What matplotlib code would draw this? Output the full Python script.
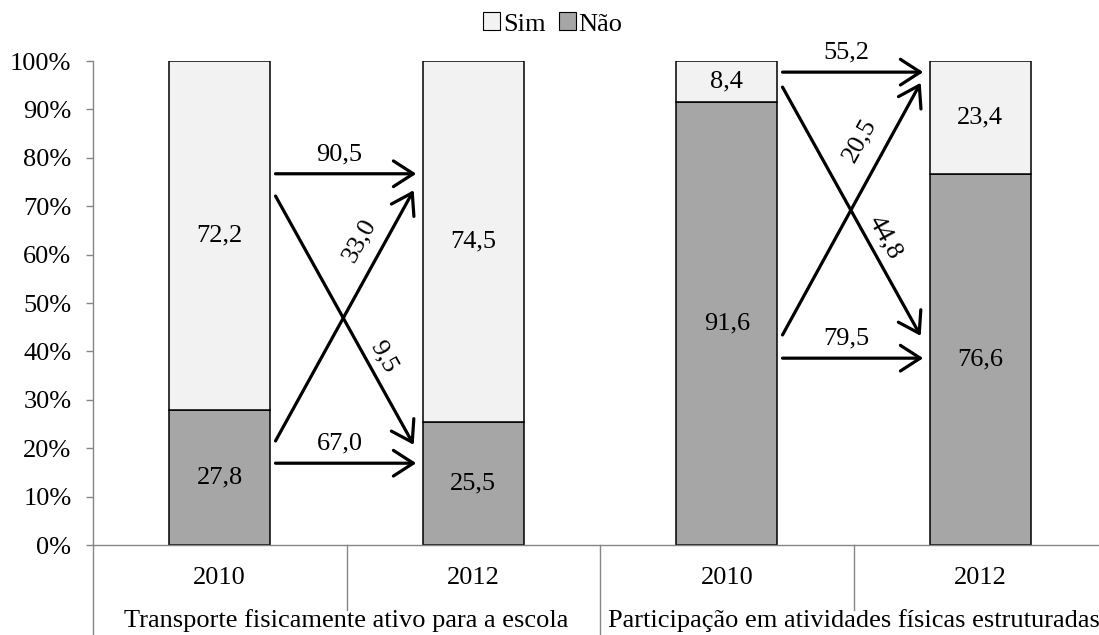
import matplotlib
matplotlib.use("Agg")
import matplotlib.pyplot as plt
from matplotlib.patches import Patch
from matplotlib.transforms import blended_transform_factory

plt.rcParams['font.family'] = ['Liberation Serif', 'DejaVu Serif']
plt.rcParams['font.size'] = 19

grupos = ["Transporte fisicamente ativo para a escola",
          "Participação em atividades físicas estruturadas"]
anos = ["2010", "2012", "2010", "2012"]
sim = [72.2, 74.5, 8.4, 23.4]
nao = [27.8, 25.5, 91.6, 76.6]

# transições 2010 -> 2012 em cada grupo
sim_sim = [90.5, 55.2]
nao_nao = [67.0, 79.5]
sim_nao = [9.5, 44.8]
nao_sim = [33.0, 20.5]

COR_SIM = '#F2F2F2'
COR_NAO = '#A6A6A6'
CINZA = '#868686'

fig = plt.figure(figsize=(10.99, 6.35), dpi=100)
ax = fig.add_axes([93 / 1099, 90 / 635, 1014 / 1099, 484 / 635])

x = list(range(len(anos)))
ax.bar(x, nao, width=0.4, color=COR_NAO, edgecolor='black', linewidth=1.1, zorder=2)
ax.bar(x, sim, width=0.4, bottom=nao, color=COR_SIM, edgecolor='black', linewidth=1.1, zorder=2)

fmt = lambda v: f"{v:.1f}".replace('.', ',')
for i in x:
    ax.text(i, nao[i] / 2, fmt(nao[i]), ha='center', va='center')
    ax.text(i, nao[i] + sim[i] / 2, fmt(sim[i]), ha='center', va='center')

ax.set_xlim(-0.5, 3.5)
ax.set_ylim(0, 100)
ax.set_yticks(range(0, 101, 10))
ax.set_yticklabels([f"{v}%" for v in range(0, 101, 10)])
ax.set_xticks([])
ax.tick_params(axis='y', length=5, width=1, color=CINZA, pad=10.5)
for s in ('top', 'right'):
    ax.spines[s].set_visible(False)
for s in ('left', 'bottom'):
    ax.spines[s].set_color(CINZA)
    ax.spines[s].set_linewidth(1)

# setas de transição (posições verticais de cada seta, por grupo)
layout = [
    dict(ss=76.7, nn=16.9, sn=(72.1, 20.7), ns=(21.5, 73.3),
         lab_sn=(0.644, 38.8), lab_ns=(0.553, 63.0)),
    dict(ss=97.7, nn=38.6, sn=(94.6, 43.2), ns=(43.4, 95.5),
         lab_sn=(2.624, 63.6), lab_ns=(2.526, 83.7)),
]
seta = dict(arrowstyle='->,head_length=0.65,head_width=0.42', lw=2.3,
            color='black', mutation_scale=22, shrinkA=0, shrinkB=0)

for g, lay in enumerate(layout):
    x0 = 2 * g + 0.22
    x1 = 2 * g + 0.775
    ax.annotate('', xy=(x1, lay['ss']), xytext=(x0, lay['ss']), arrowprops=seta)
    ax.annotate('', xy=(x1, lay['nn']), xytext=(x0, lay['nn']), arrowprops=seta)
    ax.annotate('', xy=(x1 - 0.01, lay['sn'][1]), xytext=(x0, lay['sn'][0]), arrowprops=seta)
    ax.annotate('', xy=(x1 - 0.01, lay['ns'][1]), xytext=(x0, lay['ns'][0]), arrowprops=seta)
    xm = (x0 + x1) / 2 - 0.025
    ax.text(xm, lay['ss'] + 4.0, fmt(sim_sim[g]), ha='center', va='center')
    ax.text(xm, lay['nn'] + 4.0, fmt(nao_nao[g]), ha='center', va='center')
    ax.text(*lay['lab_sn'], fmt(sim_nao[g]), ha='center', va='center', rotation=-61)
    ax.text(*lay['lab_ns'], fmt(nao_sim[g]), ha='center', va='center', rotation=61)

# eixo de categorias em dois níveis
trans = blended_transform_factory(ax.transData, ax.transAxes)
for i, ano in enumerate(anos):
    ax.text(i, -0.068, ano, transform=trans, ha='center', va='center')
for g, nome in enumerate(grupos):
    ax.text(2 * g + 0.5, -0.155, nome, transform=trans, ha='center', va='center')
for xs in (0.5, 2.5):
    ax.plot([xs, xs], [0, -0.134], transform=trans, color=CINZA, lw=1, clip_on=False)
for xs in (-0.5, 1.5, 3.5):
    ax.plot([xs, xs], [0, -0.2], transform=trans, color=CINZA, lw=1, clip_on=False)

handles = [Patch(facecolor=COR_SIM, edgecolor='black', linewidth=0.8, label='Sim'),
           Patch(facecolor=COR_NAO, edgecolor='black', linewidth=0.8, label='Não')]
fig.legend(handles=handles, loc='center', bbox_to_anchor=(553 / 1099, 1 - 24 / 635),
           ncol=2, frameon=False, handlelength=0.65, handleheight=0.65,
           handletextpad=0.1, columnspacing=0.5, borderpad=0)

fig.savefig('out.png', dpi=100)
